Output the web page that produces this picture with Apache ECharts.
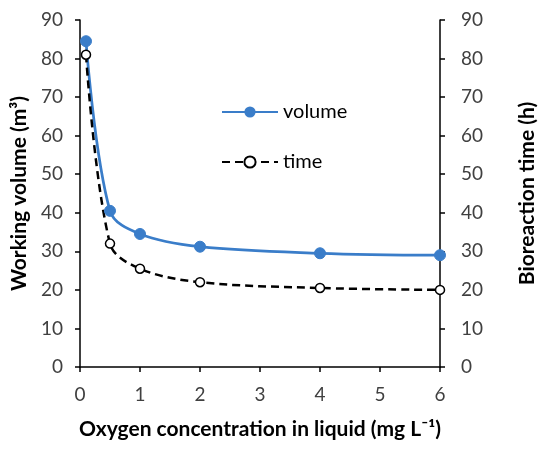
<!DOCTYPE html>
<html><head><meta charset="utf-8">
<script src="https://cdn.jsdelivr.net/npm/echarts@6/dist/echarts.min.js"></script>
<style>html,body{margin:0;padding:0;background:#fff}#c{width:550px;height:452px}</style>
</head><body><div id="c"></div>
<script>
var oxygen = [0.1, 0.5, 1, 2, 4, 6];
var volume = [84.5, 40.5, 34.5, 31.2, 29.5, 29.0];
var time = [81.0, 32.0, 25.5, 22.0, 20.5, 20.0];
var xTicks = [0, 1, 2, 3, 4, 5, 6];
var yTicks = [0, 10, 20, 30, 40, 50, 60, 70, 80, 90];

function pairs(xs, ys){ return xs.map(function(x,i){ return [x, ys[i]]; }); }
var font = 'Lato';
var chart = echarts.init(document.getElementById('c'));
var axisCommon = {
  axisLine:{show:true, lineStyle:{color:'#000', width:1.5}},
  axisTick:{show:true, inside:false, length:5, lineStyle:{color:'#000', width:1.5}},
  splitLine:{show:false},
  nameTextStyle:{color:'#000', fontFamily:font, fontSize:21, fontWeight:'bold'}
};
var lbl = {color:'#404040', fontFamily:font, fontSize:19};
chart.setOption({
  animation:false,
  grid:{left:80, right:110, top:20, bottom:85, containLabel:false, outerBoundsMode:'none'},
  legend:{
    orient:'vertical', left:216, top:97, itemWidth:56, itemHeight:14, itemGap:30,
    textStyle:{color:'#000', fontFamily:font, fontSize:20, lineHeight:20},
    data:['volume','time']
  },
  xAxis:Object.assign({}, axisCommon, {
    type:'value', min:xTicks[0], max:xTicks[xTicks.length-1], interval:1,
    name:'Oxygen concentration in liquid (mg L\u207B\u00B9)', nameLocation:'middle', nameGap:52,
    axisLabel:Object.assign({margin:18}, lbl)
  }),
  yAxis:[
    Object.assign({}, axisCommon, {
      type:'value', min:yTicks[0], max:yTicks[yTicks.length-1], interval:10, position:'left',
      name:'Working volume (m\u00B3)', nameLocation:'middle', nameGap:48, nameRotate:90,
      axisLabel:Object.assign({margin:17}, lbl)
    }),
    Object.assign({}, axisCommon, {
      type:'value', min:yTicks[0], max:yTicks[yTicks.length-1], interval:10, position:'right',
      name:'Bioreaction time (h)', nameLocation:'middle', nameGap:77, nameRotate:90,
      axisLabel:Object.assign({margin:21}, lbl)
    })
  ],
  series:[
    {name:'volume', type:'line', yAxisIndex:0, smooth:0.35, data:pairs(oxygen, volume),
     symbol:'circle', symbolSize:11,
     lineStyle:{color:'#3a7dc9', width:2.75},
     itemStyle:{color:'#3a7dc9', borderColor:'#3a7dc9'}},
    {name:'time', type:'line', yAxisIndex:1, smooth:0.35, data:pairs(oxygen, time),
     symbol:'circle', symbolSize:9,
     lineStyle:{color:'#000', width:2.5, type:[8,5]},
     itemStyle:{color:'#fff', borderColor:'#000', borderWidth:1.5}}
  ]
});
</script></body></html>
